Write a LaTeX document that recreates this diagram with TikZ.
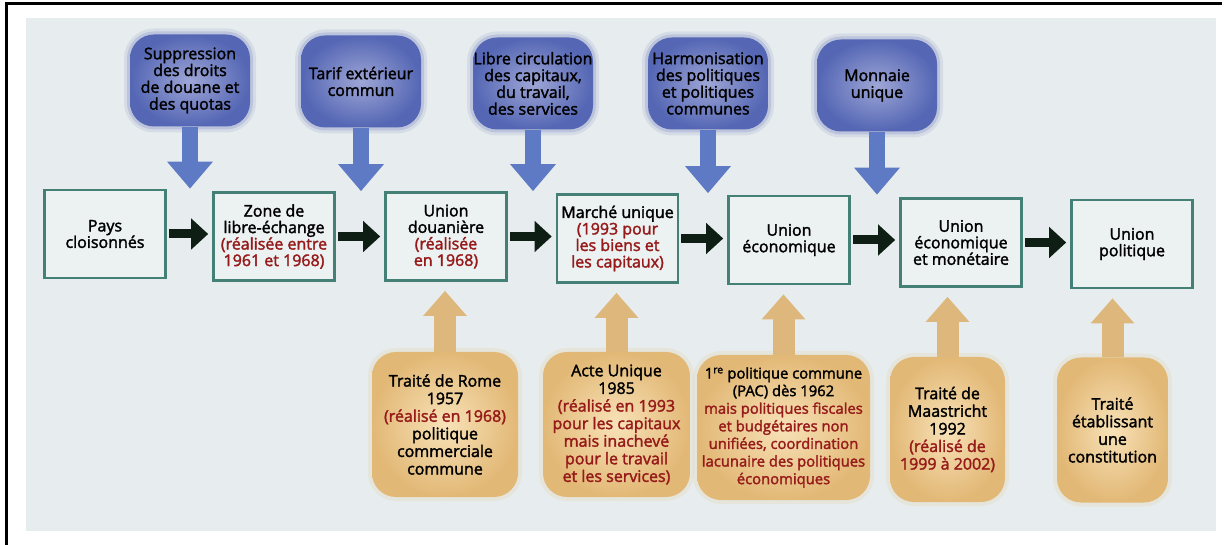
\documentclass[tikz,border=0pt]{standalone}
\usepackage{fontspec}
\setmainfont{Open Sans}[FakeBold=2]
\usetikzlibrary{arrows.meta}

\definecolor{paper}{RGB}{231,237,238}
\definecolor{stagefill}{RGB}{236,241,241}
\definecolor{stageline}{RGB}{68,128,118}
\definecolor{flowcol}{RGB}{14,30,20}
\definecolor{goallight}{RGB}{158,166,214}
\definecolor{goaldark}{RGB}{84,102,180}
\definecolor{goalblue}{RGB}{95,122,196}
\definecolor{treatylight}{RGB}{248,226,184}
\definecolor{treatydark}{RGB}{226,184,118}
\definecolor{treatytan}{RGB}{222,183,124}
\definecolor{dates}{RGB}{150,26,26}
\newcommand{\dated}[1]{\textcolor{dates}{#1}}

\begin{document}
\begin{tikzpicture}[x=1pt,y=-1pt,
  every node/.style={align=center, inner sep=0pt, font=\fontsize{16}{16.8}\selectfont},
  stage/.style={draw=stageline, line width=2.6pt, fill=stagefill, minimum width=121, minimum height=88, font=\fontsize{16}{16.5}\selectfont},
  goal/.style={rounded corners=24pt, inner color=goallight, outer color=goaldark, minimum width=120, minimum height=92,
    preaction={draw=goaldark, draw opacity=0.12, line width=12pt},
    preaction={draw=goaldark, draw opacity=0.2, line width=6pt}},
  treaty/.style={rounded corners=24pt, inner color=treatylight, outer color=treatydark, minimum height=145, font=\fontsize{16}{17.6}\selectfont,
    preaction={draw=treatydark, draw opacity=0.15, line width=8pt}},
  flow/.style={-{Triangle[width=30pt,length=17pt]}, line width=9pt, flowcol, shorten <=2pt, shorten >=4pt},
  goal arrow/.style={-{Triangle[width=44pt,length=27pt]}, line width=16pt, goalblue},
  treaty arrow/.style={-{Triangle[width=42pt,length=25pt]}, line width=22pt, treatytan, shorten >=9pt}]
\useasboundingbox (0,0) rectangle (1224,545);
\fill[white] (0,0) rectangle (1224,545);
\fill[paper] (26,18) rectangle (1216,531);
\draw[line width=3pt] (6,545) -- (6,4) -- (1222,4);

\node[stage] (s1) at (105,234) {Pays\\cloisonnés};
\node[stage] (s2) at (274,236.5) {Zone de\\libre-échange\\\dated{(réalisée entre}\\\dated{1961 et 1968)}};
\node[stage] (s3) at (446,236.5) {Union\\douanière\\\dated{(réalisée}\\\dated{en 1968)}};
\node[stage] (s4) at (617.5,238.5) {Marché unique\\\dated{(1993 pour}\\\dated{les biens et}\\\dated{les capitaux)}};
\node[stage] (s5) at (789,240) {Union\\économique};
\node[stage] (s6) at (961,242.5) {Union\\économique\\et monétaire};
\node[stage] (s7) at (1132,244) {Union\\politique};

\draw[flow] (s1.east) -- (s1.east -| s2.west);
\draw[flow] (s2.east) -- (s2.east -| s3.west);
\draw[flow] (s3.east) -- (s3.east -| s4.west);
\draw[flow] (s4.east) -- (s4.east -| s5.west);
\draw[flow] (s5.east) -- (s5.east -| s6.west);
\draw[flow] (s6.east) -- (s6.east -| s7.west);

\node[goal] (g1) at (190,80.5) {Suppression\\des droits\\de douane et\\des quotas};
\node[goal] (g2) at (361,81.5) {Tarif extérieur\\commun};
\node[goal] (g3) at (533,83.5) {Libre circulation\\des capitaux,\\du travail,\\des services};
\node[goal] (g4) at (708,83.5) {Harmonisation\\des politiques\\et politiques\\communes};
\node[goal] (g5) at (877,85.5) {Monnaie\\unique};

\draw[goal arrow] (g1.south) -- (g1.south |- s1.north);
\draw[goal arrow] (g2.south) -- (g2.south |- s2.north);
\draw[goal arrow] (g3.south) -- (g3.south |- s3.north);
\draw[goal arrow] (g4.south) -- (g4.south |- s4.north);
\draw[goal arrow] (g5.south) -- (g5.south |- s5.north);

\node[treaty, minimum width=146] (t1) at (445,424.5) {Traité de Rome\\1957\\\dated{(réalisé en 1968)}\\politique\\commerciale\\commune};
\node[treaty, minimum width=147] (t2) at (616.5,424.5) {Acte Unique\\1985\\\dated{(réalisé en 1993}\\\dated{pour les capitaux}\\\dated{mais inachevé}\\\dated{pour le travail}\\\dated{et les services)}};
\node[treaty, minimum width=173, font=\fontsize{14.8}{17.6}\selectfont] (t3) at (783.5,427.5) {1\textsuperscript{re} politique commune\\(PAC) dès 1962\\\dated{mais politiques fiscales}\\\dated{et budgétaires non}\\\dated{unifiées, coordination}\\\dated{lacunaire des politiques}\\\dated{économiques}};
\node[treaty, minimum width=115] (t4) at (947.5,429.5) {Traité de\\Maastricht\\1992\\\dated{(réalisé de}\\\dated{1999 à 2002)}};
\node[treaty, minimum width=111] (t5) at (1112.5,430) {Traité\\établissant\\une\\constitution};

\draw[treaty arrow] (t1.north) -- (t1.north |- s3.south);
\draw[treaty arrow] (t2.north) -- (t2.north |- s4.south);
\draw[treaty arrow] (t3.north) -- (t3.north |- s5.south);
\draw[treaty arrow] (t4.north) -- (t4.north |- s6.south);
\draw[treaty arrow] (t5.north) -- (t5.north |- s7.south);
\end{tikzpicture}
\end{document}
